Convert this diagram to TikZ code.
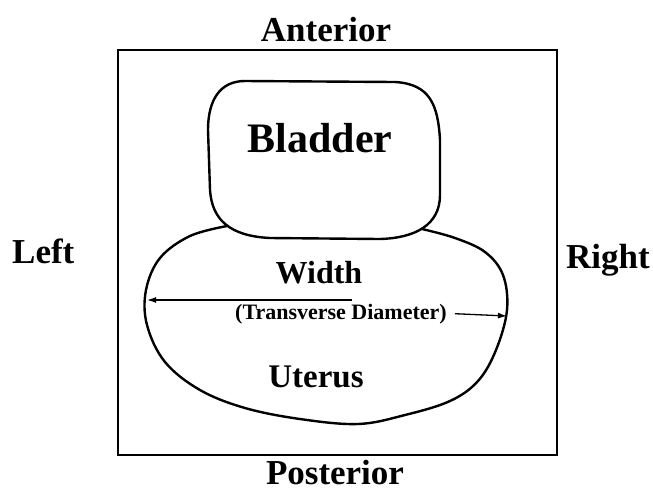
\documentclass[tikz,border=0pt]{standalone}
\usepackage{fontspec}
\setmainfont{Liberation Serif}
\usetikzlibrary{arrows.meta}

\begin{document}
\begin{tikzpicture}[x=1pt, y=-1pt,
    lbl/.style={font=\bfseries\fontsize{#1}{#1}\selectfont, inner sep=0pt, anchor=base},
    organ/.style={line width=2.4pt, line join=round, line cap=round},
    dim/.style={line width=1.3pt, -{Latex[length=9pt, width=6pt]}}]
  % Pelvis seen in cross-section: bladder lies anterior, uterus below it.
  \useasboundingbox (0,0) rectangle (653,491);

  % --- frame and orientation labels ---
  \draw[line width=1.6pt] (118,50) rectangle (557,455);
  \node[lbl=35] (ant)  at (326,41)  {Anterior};
  \node[lbl=35] (post) at (335,484) {Posterior};
  \node[lbl=35, anchor=base west] (left)  at (12,263)  {Left};
  \node[lbl=35, anchor=base west] (right) at (566,268) {Right};

  % --- bladder: rounded box on top ---
  \draw[organ] (245,81) -- (395,82)
    .. controls (430,84) and (438,105) .. (440,140) -- (440,195)
    .. controls (440,225) and (415,238) .. (380,239) -- (270,238)
    .. controls (230,236) and (212,220) .. (210,190) -- (208,130)
    .. controls (208,100) and (220,81) .. (245,81) -- cycle;
  \node[lbl=42] (bladder) at (320,152) {Bladder};

  % --- uterus: wide body tucked under the bladder ---
  \draw[organ] plot[smooth, tension=0.6] coordinates {
    (227,226) (190,236) (160,258) (146,290) (147,325) (165,362)
    (200,390) (245,408) (300,419) (358,424) (405,415) (450,401)
    (478,381) (496,350) (507,310) (503,275) (485,252) (455,238) (422,229)};
  \node[lbl=32] (width) at (319,283) {Width};
  \node[lbl=22] (trans) at (341,319) {(Transverse Diameter)};
  \node[lbl=33] (uterus) at (316,387) {Uterus};

  % --- transverse diameter, wall to wall ---
  \coordinate (lwall)  at (147,300);
  \coordinate (lstart) at (352,300);
  \coordinate (rwall)  at (507,316);
  \draw[dim] (lstart) -- (lwall);
  \draw[dim] ([xshift=8pt]trans.east) -- (rwall);
\end{tikzpicture}
\end{document}
